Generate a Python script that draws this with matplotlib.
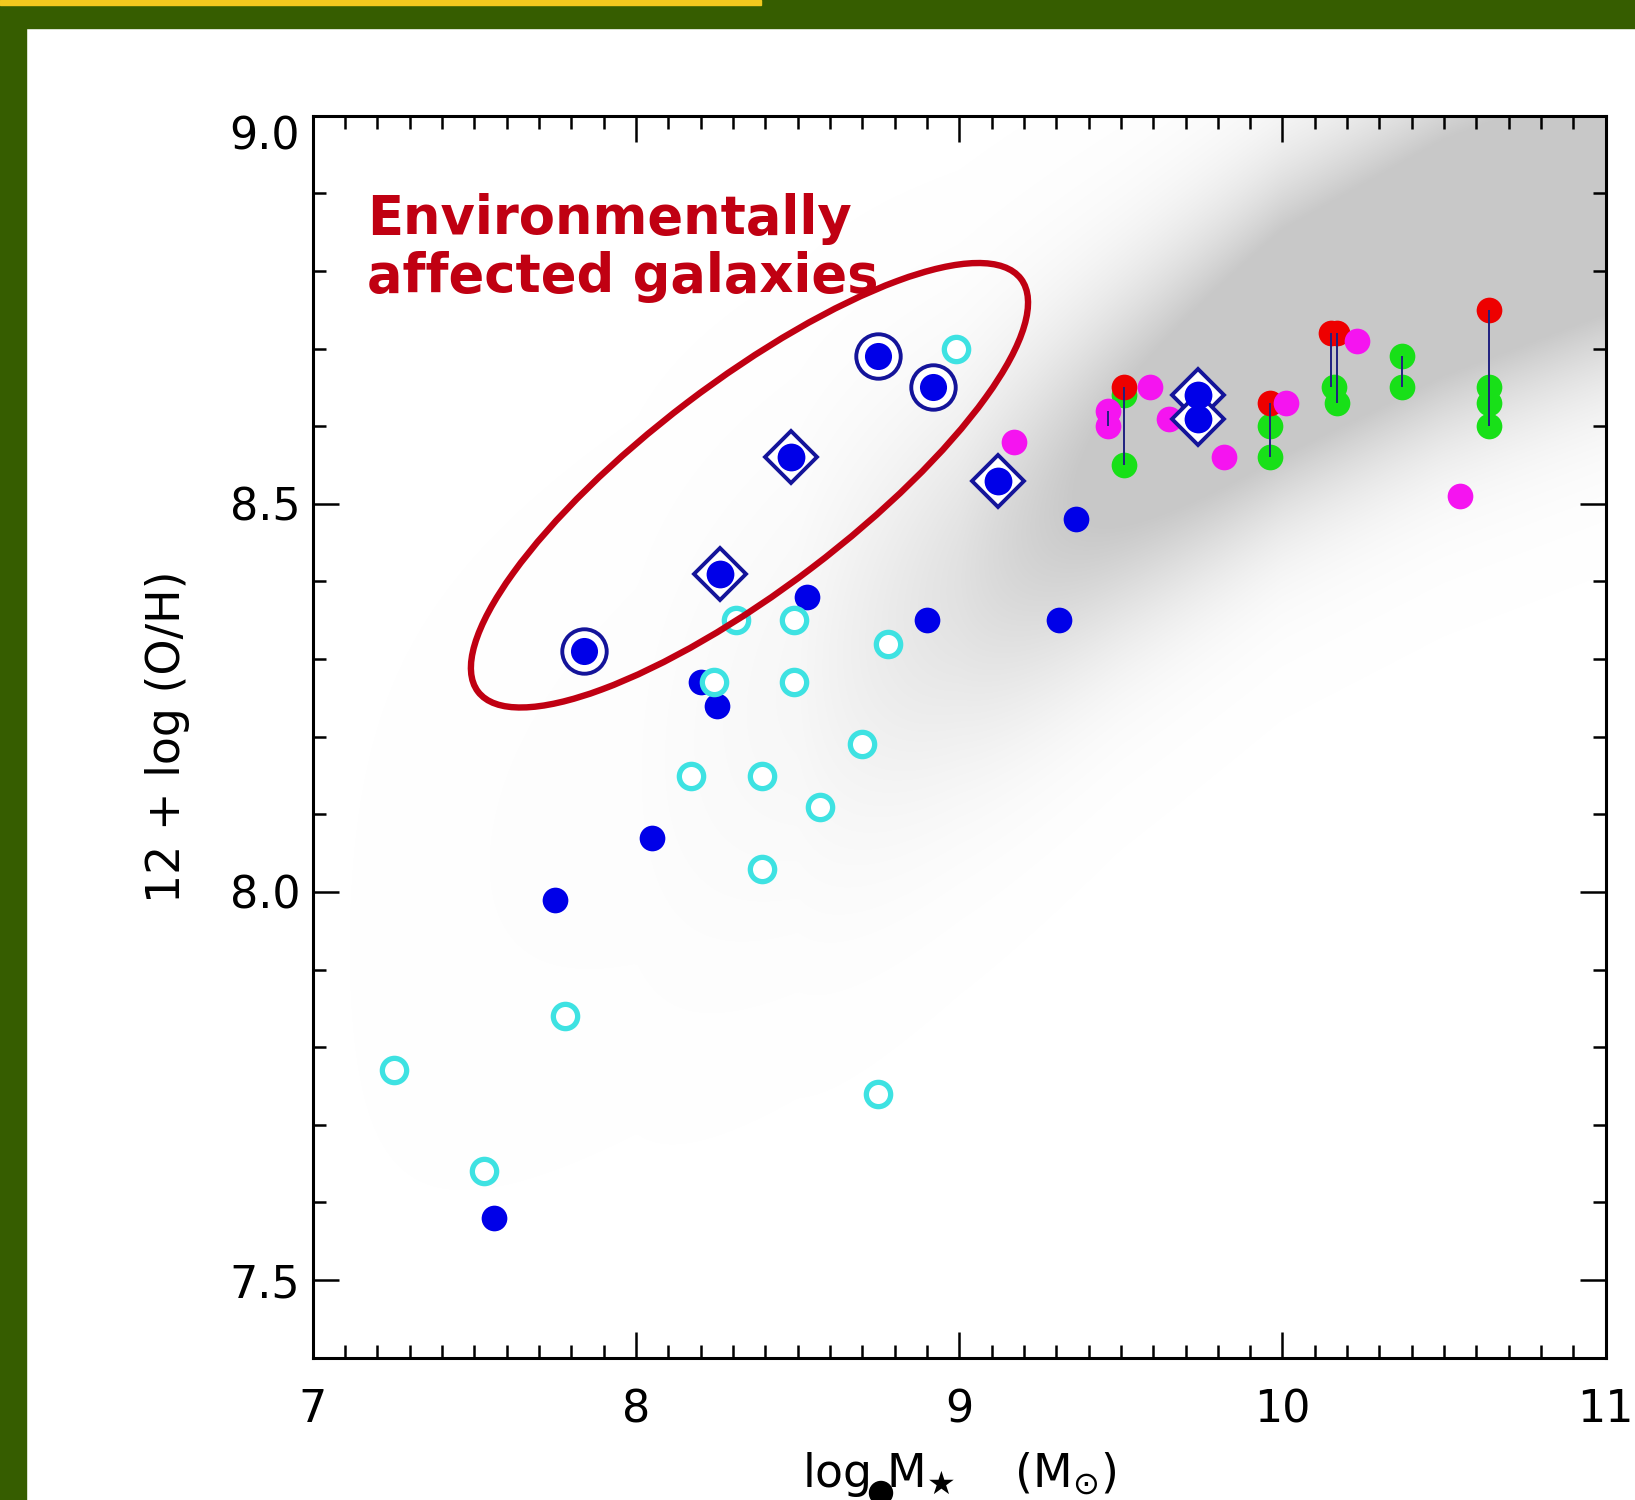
import matplotlib
matplotlib.use("Agg")
import matplotlib.pyplot as plt
import numpy as np
from matplotlib.patches import Ellipse, Rectangle, Circle
from matplotlib.colors import LinearSegmentedColormap
from matplotlib.transforms import ScaledTranslation
from matplotlib.ticker import MultipleLocator, FixedLocator

plt.rcParams['font.family'] = ['DejaVu Sans']
plt.rcParams['mathtext.fontset'] = 'dejavusans'

# ---- data ----
# open cyan circles
cyan_x = [7.25, 7.53, 7.78, 8.31, 8.49, 8.24, 8.49, 8.78, 8.17, 8.39, 8.70, 8.57, 8.39, 8.75, 8.99]
cyan_y = [7.77, 7.64, 7.84, 8.35, 8.35, 8.27, 8.27, 8.32, 8.15, 8.15, 8.19, 8.11, 8.03, 7.74, 8.70]

# filled blue circles
blue_x = [7.56, 7.75, 8.05, 8.20, 8.25, 8.53, 8.90, 9.31, 9.36]
blue_y = [7.58, 7.99, 8.07, 8.27, 8.24, 8.38, 8.35, 8.35, 8.48]

# blue circles with ring (environmentally affected)
ring_x = [7.84, 8.75, 8.92]
ring_y = [8.31, 8.69, 8.65]

# blue circles inside diamonds
diam_x = [8.26, 8.48, 9.12, 9.74, 9.74]
diam_y = [8.41, 8.56, 8.53, 8.64, 8.61]

red_x = [9.51, 9.96, 10.15, 10.17, 10.64]
red_y = [8.65, 8.63, 8.72, 8.72, 8.75]

green_x = [9.51, 9.51, 9.96, 9.96, 10.16, 10.17, 10.37, 10.37, 10.64, 10.64, 10.64]
green_y = [8.64, 8.55, 8.60, 8.56, 8.65, 8.63, 8.69, 8.65, 8.65, 8.63, 8.60]

magenta_x = [9.17, 9.46, 9.46, 9.59, 9.65, 9.72, 9.82, 10.01, 10.23, 10.55]
magenta_y = [8.58, 8.62, 8.60, 8.65, 8.61, 8.62, 8.56, 8.63, 8.71, 8.51]

# vertical connectors between methods
line_x = [9.46, 9.51, 9.96, 10.15, 10.17, 10.37, 10.64]
line_lo = [8.60, 8.55, 8.56, 8.65, 8.63, 8.65, 8.60]
line_hi = [8.62, 8.65, 8.63, 8.72, 8.72, 8.69, 8.75]

# SDSS background cloud (ridge read by eye)
cloud_mass = [7.0, 8.0, 8.5, 9.0, 9.5, 10.0, 10.5, 11.0]
cloud_center = [7.90, 8.15, 8.27, 8.40, 8.56, 8.71, 8.82, 8.90]
cloud_width = [0.25, 0.22, 0.20, 0.17, 0.15, 0.14, 0.14, 0.14]
cloud_level = [0.00, 0.02, 0.08, 0.30, 0.65, 0.95, 1.00, 1.00]

fig = plt.figure(figsize=(16.35, 15.0), dpi=100)
ax = fig.add_axes([0.1913, 0.0949, 0.7908, 0.8279])

# background density
gx = np.linspace(7, 11, 400)
gy = np.linspace(7.4, 9.0, 240)
cen = np.interp(gx, cloud_mass, cloud_center)
wid = np.interp(gx, cloud_mass, cloud_width)
lev = np.interp(gx, cloud_mass, cloud_level)
dens = lev[None, :] * np.exp(-0.5 * ((gy[:, None] - cen[None, :]) / wid[None, :]) ** 2)
dens = np.clip(dens * 1.8, 0, 1)
cmap = LinearSegmentedColormap.from_list('cloud', ['#FFFFFF', '#C8C8C8'])
ax.imshow(dens, extent=[7, 11, 7.4, 9.0], origin='lower', aspect='auto',
          cmap=cmap, vmin=0, vmax=1, zorder=0, interpolation='bilinear')

blue = '#0000E8'
navy = '#14149A'
ax.plot(blue_x, blue_y, 'o', color=blue, ms=18.5, mew=0, zorder=3)
ax.plot(cyan_x, cyan_y, 'o', mfc='white', mec='#3EE2E2', ms=17.5, mew=3.8, zorder=4)
ax.plot(green_x, green_y, 'o', color='#18E018', ms=18.5, mew=0, zorder=3)
ax.plot(red_x, red_y, 'o', color='#EE0000', ms=18.5, mew=0, zorder=4)
ax.plot(magenta_x, magenta_y, 'o', color='#F514F0', ms=18.5, mew=0, zorder=4)
ax.vlines(line_x, line_lo, line_hi, color='#202080', lw=1.4, zorder=5)
ax.plot(diam_x, diam_y, 'D', mfc='white', mec=navy, ms=26, mew=2.8, zorder=6)
ax.plot(diam_x, diam_y, 'o', color=blue, ms=20, mew=0, zorder=7)
ax.plot(ring_x, ring_y, 'o', mfc='white', mec=navy, ms=32, mew=2.8, zorder=6)
ax.plot(ring_x, ring_y, 'o', color=blue, ms=19.5, mew=0, zorder=7)

# highlight ellipse (size in inches, centre in data coords)
etrans = fig.dpi_scale_trans + ScaledTranslation(8.351, 8.524, ax.transData)
ax.add_patch(Ellipse((0, 0), 6.82, 2.07, angle=37.25, fill=False,
                     ec='#C00012', lw=4.6, transform=etrans, zorder=8, clip_on=False))
ax.text(7.168, 8.90, 'Environmentally\naffected galaxies', color='#C00012',
        fontsize=38, fontweight='bold', ha='left', va='top', linespacing=1.13, zorder=9)

ax.set_xlim(7, 11)
ax.set_ylim(7.4, 9.0)
ax.xaxis.set_major_locator(FixedLocator([7, 8, 9, 10, 11]))
ax.xaxis.set_minor_locator(MultipleLocator(0.1))
ax.yaxis.set_major_locator(FixedLocator([7.5, 8.0, 8.5, 9.0]))
ax.yaxis.set_minor_locator(MultipleLocator(0.1))
ax.set_xticklabels(['7', '8', '9', '10', '11'])
ax.set_yticklabels(['7.5', '8.0', '8.5', '9.0'])
ax.tick_params(which='both', direction='in', top=True, right=True, width=1.8, color='black')
ax.tick_params(which='major', length=18.5)
ax.tick_params(which='minor', length=9.5)
ax.tick_params(axis='x', which='major', labelsize=32, pad=22)
ax.tick_params(axis='y', which='major', labelsize=32, pad=9)
for s in ax.spines.values():
    s.set_linewidth(2.2)
ax.get_yticklabels()[-1].set_verticalalignment('top')

ax.set_ylabel('12 + log (O/H)', fontsize=33)
ax.yaxis.set_label_coords(-0.095, 0.5)
ax.set_xlabel('log $\\mathsf{M}_{\u2605}$    $(\\mathsf{M}_{\\odot})$', fontsize=33)
ax.xaxis.set_label_coords(0.5, -0.074)

# stray dot below the x label
fig.patches.append(Circle((8.81, 0.07), 0.115, color='black',
                          transform=fig.dpi_scale_trans, figure=fig))

# slide frame
green = '#365D00'
fig.patches.append(Rectangle((0, 14.72), 16.35, 0.28, color=green,
                             transform=fig.dpi_scale_trans, figure=fig))
fig.patches.append(Rectangle((0, 0), 0.26, 15.0, color=green,
                             transform=fig.dpi_scale_trans, figure=fig))
fig.patches.append(Rectangle((0, 14.955), 7.61, 0.045, color='#F2C81E',
                             transform=fig.dpi_scale_trans, figure=fig))

fig.savefig('out.png', dpi=100)
